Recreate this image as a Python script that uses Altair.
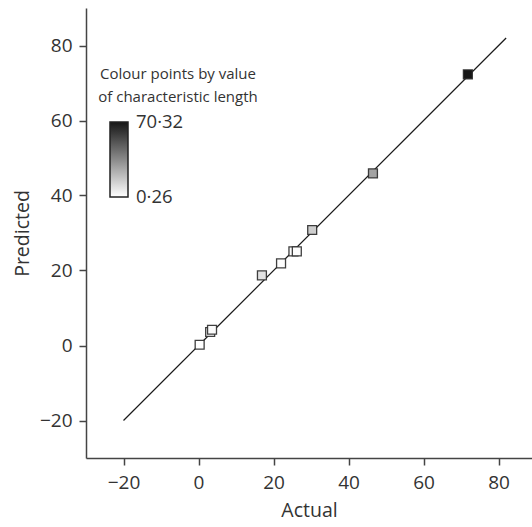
import altair as alt
import pandas as pd

# Data
actual = [0.3, 3.1, 3.6, 16.9, 22.0, 25.3, 26.2, 30.3, 46.5, 71.8]
predicted = [0.2, 3.6, 4.2, 18.7, 21.9, 25.1, 25.1, 30.8, 45.9, 72.3]
char_length = [0.26, 0.9, 1.4, 9.0, 0.6, 1.2, 0.8, 15.0, 28.0, 70.32]

line_x = [-20, 82]
line_y = [-20, 82]

legend_title = "Colour points by value\nof characteristic length"
color_domain = [0.26, 70.32]
# label positions a hair inside the ends so they are centred on the ends
legend_values = [0.2601, 70.3199]

pts = pd.DataFrame({"Actual": actual, "Predicted": predicted, "L": char_length})
line_df = pd.DataFrame({"Actual": line_x, "Predicted": line_y})

FONT = "Open Sans"
xscale = alt.Scale(domain=[-30, 88.9], nice=False, zero=False)
yscale = alt.Scale(domain=[-30, 90], nice=False, zero=False)

xax = alt.Axis(values=[-20, 0, 20, 40, 60, 80], title="Actual", grid=False,
               labelPadding=8, titlePadding=9)
yax = alt.Axis(values=[-20, 0, 20, 40, 60, 80], title="Predicted", grid=False,
               labelPadding=7, titlePadding=7)

line = alt.Chart(line_df).mark_line(color="#1a1a1a", strokeWidth=1.2).encode(
    x=alt.X("Actual:Q", scale=xscale, axis=xax),
    y=alt.Y("Predicted:Q", scale=yscale, axis=yax),
)

points = alt.Chart(pts).mark_square(
    size=80, strokeWidth=1.3, opacity=1, stroke="#2a2a2a", strokeOpacity=0.9
).encode(
    x=alt.X("Actual:Q", scale=xscale),
    y=alt.Y("Predicted:Q", scale=yscale),
    fill=alt.Fill(
        "L:Q",
        scale=alt.Scale(domain=color_domain, range=["#ffffff", "#161616"], interpolate="rgb"),
        legend=alt.Legend(
            type="gradient",
            orient="none", legendX=24, legendY=114, title=None,
            direction="vertical", gradientLength=75, gradientThickness=18,
            gradientStrokeColor="#222222", gradientStrokeWidth=1.5,
            values=legend_values, format=".2f",
            labelExpr="replace(datum.label, '.', '·')",
            labelOffset=8, labelFontSize=18.5, labelOverlap=False,
            labelFont=FONT, labelColor="#333333",
        ),
    ),
)

title_text = alt.Chart(pd.DataFrame({"t": [legend_title]})).mark_text(
    font=FONT, fontSize=15, color="#333333", align="center", baseline="alphabetic",
    lineBreak="\n", lineHeight=23,
).encode(
    x=alt.value(92), y=alt.value(71), text="t:N"
)

chart = alt.layer(line, points, title_text).properties(
    width=446, height=450,
    autosize=alt.AutoSizeParams(type="none"),
    padding={"left": 86, "top": 8, "right": 0, "bottom": 69},
).configure_view(stroke=None).configure_axis(
    labelFont=FONT, titleFont=FONT, labelFontSize=19, titleFontSize=19.5,
    labelColor="#333333", titleColor="#333333", titleFontWeight="normal",
    domainColor="#444444", tickColor="#444444", domainWidth=1.5, tickWidth=1.5,
    tickSize=7,
)

chart.save("out.html", embed_options={"renderer": "svg", "actions": False})
